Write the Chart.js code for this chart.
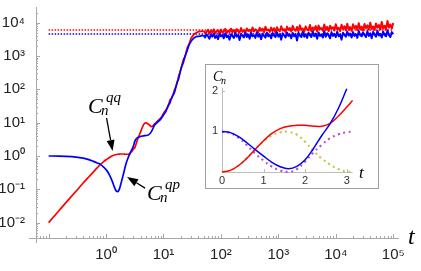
<!DOCTYPE html>
<html>
<head>
<meta charset="utf-8">
<script src="https://cdn.jsdelivr.net/npm/chart.js@4.4.0/dist/chart.umd.min.js"></script>
<style>
  html, body { margin: 0; padding: 0; background: #fff; }
  #wrap { position: relative; width: 421px; height: 271px; }
  #main { display: block; }
  #inset { position: absolute; left: 205px; top: 64px; width: 172px; height: 123px; border: 1px solid #a0a0a0; background: #fff; }
  #insetCanvas { display: block; }
</style>
</head>
<body>
<div id="wrap">
  <canvas id="main" width="421" height="271"></canvas>
  <div id="inset"><canvas id="insetCanvas" width="172" height="123"></canvas></div>
</div>
<script>
// ---- main plot data (log-log) ----
const tEarly = [0.1, 0.15, 0.2, 0.3, 0.4, 0.5, 0.6, 0.7, 0.8, 0.9,
  1.0, 1.1, 1.2, 1.3, 1.4, 1.5, 1.6, 1.7, 1.8, 1.9,
  2.0, 2.2, 2.4, 2.6, 2.8, 3.0, 3.2, 3.5, 3.9, 4.4,
  4.8, 5.5, 6.2, 7.0, 8.0, 9.0, 10, 11, 12, 13,
  14, 15.5, 17, 18.5, 20, 22, 24, 26, 28, 30,
  33, 36, 40, 45, 50];
const redEarly = [0.01, 0.0225, 0.04, 0.088, 0.155, 0.235, 0.33, 0.44, 0.56, 0.67,
  0.77, 0.86, 0.95, 1.02, 1.07, 1.11, 1.13, 1.14, 1.15, 1.15,
  1.15, 1.13, 1.13, 1.19, 1.38, 1.6, 1.85, 3.0, 4.8, 8.0,
  9.8, 9.0, 7.6, 9.2, 11.5, 14, 19, 24, 30, 48,
  55, 95, 140, 260, 380, 750, 1000, 1800, 2300, 3300,
  4200, 4800, 5300, 5500, 5600];
const blueEarly = [1.0, 0.995, 0.98, 0.93, 0.86, 0.78, 0.69, 0.62, 0.56, 0.47,
  0.39, 0.31, 0.23, 0.165, 0.115, 0.09, 0.085, 0.1, 0.14, 0.2,
  0.28, 0.55, 0.85, 1.18, 1.55, 2.0, 2.9, 3.5, 3.8, 4.0,
  4.1, 4.3, 5.5, 8.5, 10.5, 13, 17, 22, 32, 40,
  58, 80, 150, 220, 400, 620, 1050, 1500, 2200, 2700,
  3300, 3700, 3900, 4000, 4100];

// long-time fluctuating plateau
const tNoise = [50.1, 53.1, 56.2, 59.6, 63.1, 66.8, 70.8, 75.0, 79.4, 84.1, 89.1, 94.4,
  100, 106, 112, 119, 126, 133, 141, 150, 158, 168, 178, 188, 200, 211, 224, 237, 251, 266, 282, 299,
  316, 335, 355, 376, 398, 422, 447, 473, 501, 531, 562, 596, 631, 668, 708, 750, 794, 841, 891, 944,
  1000, 1059, 1122, 1189, 1259, 1334, 1413, 1496, 1585, 1679, 1778, 1884, 1995, 2113, 2239, 2371, 2512, 2661, 2818, 2985,
  3162, 3350, 3548, 3758, 3981, 4217, 4467, 4732, 5012, 5309, 5623, 5957, 6310, 6683, 7079, 7499, 7943, 8414, 8913, 9441,
  10000, 10590, 11220, 11890, 12590, 13340, 14130, 14960, 15850, 16790, 17780, 18840, 19950, 21130, 22390, 23710, 25120, 26610, 28180, 29850,
  31620, 33500, 35480, 37580, 39810, 42170, 44670, 47320, 50120, 53090, 56230, 59570, 63100, 66830, 70790, 74990, 79430, 84140, 89130, 94410,
  100000];
const redNoise = [5600, 4900, 5300, 6100, 4700, 5800, 5100, 6300, 4800, 5500,
  5900, 4600, 6200, 5000, 5400, 6500, 4900, 5700, 5200, 6600,
  5100, 6000, 4700, 6400, 5500, 5000, 6900, 5300, 5900, 4800,
  6700, 5600, 6100, 5000, 7200, 5400, 6300, 5800, 5100, 7000,
  5700, 6600, 5200, 7500, 5900, 6200, 5300, 7100, 5600, 6800,
  5000, 7300, 6000, 5500, 7800, 5800, 6400, 5200, 7600, 6100,
  6900, 5400, 8000, 6200, 5700, 7400, 5500, 8300, 6000, 6700,
  5300, 7700, 6300, 5800, 8500, 5600, 7200, 6100, 7900, 5400,
  8200, 6400, 6900, 5700, 8800, 6000, 7500, 5500, 8100, 6600,
  7300, 5800, 9000, 6200, 7000, 5600, 8600, 6500, 7800, 5900,
  9300, 6100, 7400, 5700, 8900, 6700, 8000, 6000, 9600, 6300,
  7600, 5800, 9100, 6800, 8300, 6100, 10000, 6400, 7700, 6000,
  9400, 7000, 8500, 6200, 10500, 6600, 8100, 6300, 11200, 7100,
  8800, 6700, 9800];
const blueNoise = [4200, 3600, 4500, 3900, 3300, 4400, 3800, 4700, 3500, 4100,
  3200, 4600, 3900, 4300, 3400, 4800, 3700, 4100, 3100, 4500,
  4000, 3500, 4900, 3800, 4300, 3000, 4600, 4100, 3600, 5000,
  3700, 4400, 3300, 4800, 3900, 4200, 3500, 5100, 3800, 4500,
  3200, 4700, 4000, 3600, 5000, 3900, 4300, 3400, 4900, 4100,
  3700, 5200, 3800, 4500, 3100, 4800, 4200, 3600, 5100, 4000,
  4400, 3400, 4900, 3900, 4600, 2900, 5000, 4100, 3700, 5300,
  3800, 4500, 3500, 5000, 4200, 3700, 5400, 3900, 4700, 3300,
  5100, 4000, 4400, 3600, 5500, 3800, 4800, 4200, 3400, 5200,
  4000, 4600, 3700, 5300, 3900, 4400, 3100, 5000, 4300, 3800,
  5400, 4100, 4700, 3600, 5200, 4000, 4500, 3500, 5600, 4200,
  3900, 5100, 4300, 3700, 5500, 4000, 4800, 3400, 5300, 4400,
  3800, 5700, 4100, 4600, 3600, 5400, 4200, 3900, 5800, 4300,
  3700, 5200, 4500];

const redLevel = 6000;
const blueLevel = 4600;
const levelSpan = [0.1, 100000];

const xTickValues = [1, 10, 100, 1000, 10000, 100000];
const yTickValues = [0.01, 0.1, 1, 10, 100, 1000, 10000];

// ---- inset data (linear) ----
const tInset = [0, 0.2, 0.4, 0.6, 0.8, 1.0, 1.2, 1.4, 1.6, 1.8, 2.0, 2.2, 2.4, 2.6, 2.8, 3.0, 3.14];
const redInset = [0, 0.04, 0.16, 0.34, 0.56, 0.77, 0.95, 1.07, 1.13, 1.15, 1.15, 1.13, 1.13, 1.2, 1.38, 1.6, 1.76];
const blueInset = [1.0, 0.97, 0.87, 0.72, 0.55, 0.39, 0.24, 0.13, 0.08, 0.14, 0.3, 0.58, 0.9, 1.19, 1.57, 2.05];
const yellowInset = [0, 0.04, 0.16, 0.35, 0.56, 0.76, 0.9, 0.98, 0.99, 0.92, 0.74, 0.52, 0.33, 0.18, 0.07, 0.01, 0];
const purpleInset = [1, 0.96, 0.84, 0.66, 0.45, 0.28, 0.13, 0.04, 0.0, 0.07, 0.26, 0.48, 0.67, 0.83, 0.93, 0.98, 1.0];

const RED = 'rgb(255,0,0)';
const BLUE = 'rgb(0,0,255)';
const SERIF = '"Liberation Serif", "Times New Roman", serif';
Chart.defaults.font.family = '"Liberation Sans", Arial, sans-serif';

const SUP = { '-': '⁻', '0': '⁰', '1': '¹', '2': '²', '3': '³', '4': '⁴', '5': '⁵', '6': '⁶', '7': '⁷', '8': '⁸', '9': '⁹' };
function powLabel(v) {
  const e = Math.round(Math.log10(v));
  return '10' + String(e).split('').map(c => SUP[c]).join('');
}

function pairs(xs, ys) {
  return ys.map((y, i) => ({ x: xs[i], y: y }));
}

// annotation anchors, in data units
const notes = [
  { sup: 'qq', labelT: 0.486, labelC: 19.6, tailT: 1.02, tailC: 13.8, tipT: 1.3, tipC: 1.41 },
  { sup: 'qp', labelT: 5.18, labelC: 0.0477, tailT: 4.78, tailC: 0.109, tipT: 2.32, tipC: 0.234 }
];

function drawCn(ctx, x, y, sup) {
  ctx.fillStyle = '#000';
  ctx.textBaseline = 'alphabetic';
  ctx.textAlign = 'left';
  ctx.font = 'italic 22px ' + SERIF;
  ctx.fillText('C', x, y);
  ctx.font = 'italic 15px ' + SERIF;
  ctx.fillText('n', x + 13, y + 2);
  ctx.fillText(sup, x + 18, y - 11);
}

function drawArrow(ctx, x0, y0, x1, y1) {
  const ang = Math.atan2(y1 - y0, x1 - x0);
  const hl = 11, hw = 4;
  const bx = x1 - hl * Math.cos(ang), by = y1 - hl * Math.sin(ang);
  ctx.strokeStyle = '#000';
  ctx.lineWidth = 1.3;
  ctx.beginPath();
  ctx.moveTo(x0, y0);
  ctx.lineTo(bx, by);
  ctx.stroke();
  ctx.fillStyle = '#000';
  ctx.beginPath();
  ctx.moveTo(x1, y1);
  ctx.lineTo(bx + hw * Math.sin(ang), by - hw * Math.cos(ang));
  ctx.lineTo(bx - hw * Math.sin(ang), by + hw * Math.cos(ang));
  ctx.closePath();
  ctx.fill();
}

// Mathematica-style axes: gray lines, inward ticks, minor ticks
const logAxes = {
  id: 'logAxes',
  beforeDatasetsDraw(chart) {
    const { ctx, chartArea: a, scales: { x, y } } = chart;
    ctx.save();
    ctx.strokeStyle = '#a8a8a8';
    ctx.lineWidth = 1;
    ctx.beginPath();
    ctx.moveTo(a.left - 7, a.bottom + 0.5);
    ctx.lineTo(a.right, a.bottom + 0.5);
    ctx.moveTo(a.left + 0.5, a.top);
    ctx.lineTo(a.left + 0.5, a.bottom + 5);
    for (let e = -3; e <= 5; e++) {
      for (let m = 1; m <= 9; m++) {
        const v = m * Math.pow(10, e);
        const len = m === 1 ? 4 : 2;
        if (v >= x.min && v <= x.max) {
          const px = Math.round(x.getPixelForValue(v)) + 0.5;
          ctx.moveTo(px, a.bottom);
          ctx.lineTo(px, a.bottom - len);
        }
        if (v >= y.min && v <= y.max) {
          const py = Math.round(y.getPixelForValue(v)) + 0.5;
          ctx.moveTo(a.left, py);
          ctx.lineTo(a.left + len, py);
        }
      }
    }
    ctx.stroke();
    ctx.restore();
  },
  afterDatasetsDraw(chart) {
    const { ctx, scales: { x, y } } = chart;
    ctx.save();
    notes.forEach(n => {
      drawArrow(ctx, x.getPixelForValue(n.tailT), y.getPixelForValue(n.tailC),
        x.getPixelForValue(n.tipT), y.getPixelForValue(n.tipC));
      drawCn(ctx, x.getPixelForValue(n.labelT), y.getPixelForValue(n.labelC), n.sup);
    });
    ctx.font = 'italic 24px ' + SERIF;
    ctx.fillStyle = '#000';
    ctx.textAlign = 'left';
    ctx.textBaseline = 'alphabetic';
    ctx.fillText('t', 408, 244);
    ctx.restore();
  }
};

new Chart(document.getElementById('main'), {
  type: 'line',
  data: {
    datasets: [
      { data: pairs(tEarly, blueEarly), borderColor: BLUE, borderWidth: 1.7, pointRadius: 0, cubicInterpolationMode: 'monotone', order: 0 },
      { data: pairs(tNoise, blueNoise), borderColor: BLUE, borderWidth: 2, borderJoinStyle: 'round', pointRadius: 0, tension: 0, order: 0 },
      { data: pairs(tEarly, redEarly), borderColor: RED, borderWidth: 1.7, pointRadius: 0, cubicInterpolationMode: 'monotone', order: 1 },
      { data: pairs(tNoise, redNoise), borderColor: RED, borderWidth: 2, borderJoinStyle: 'round', pointRadius: 0, tension: 0, order: 1 },
      { data: levelSpan.map(t => ({ x: t, y: redLevel })), borderColor: RED, borderWidth: 1.5, borderDash: [1.5, 1.5], pointRadius: 0, order: 2 },
      { data: levelSpan.map(t => ({ x: t, y: blueLevel })), borderColor: BLUE, borderWidth: 1.5, borderDash: [1.5, 1.5], pointRadius: 0, order: 2 }
    ]
  },
  options: {
    responsive: false,
    animation: false,
    events: [],
    layout: { padding: { top: 7, right: 22, left: 0, bottom: 0 } },
    plugins: { legend: { display: false }, tooltip: { enabled: false } },
    scales: {
      x: {
        type: 'logarithmic',
        min: 0.0603,
        max: 126000,
        afterFit: s => { s.height = 33; s.paddingLeft = 0; s.paddingRight = 0; },
        afterBuildTicks: s => { s.ticks = xTickValues.map(v => ({ value: v })); },
        grid: { display: false, drawTicks: false },
        border: { display: false },
        ticks: { autoSkip: false, maxRotation: 0, padding: 8, color: '#222', font: { size: 15 }, callback: v => powLabel(v) }
      },
      y: {
        type: 'logarithmic',
        min: 0.00347,
        max: 29500,
        afterFit: s => { s.width = 36; s.paddingTop = 0; s.paddingBottom = 0; },
        afterBuildTicks: s => { s.ticks = yTickValues.map(v => ({ value: v })); },
        grid: { display: false, drawTicks: false },
        border: { display: false },
        ticks: { autoSkip: false, padding: 11, color: '#222', font: { size: 15 }, callback: v => powLabel(v) }
      }
    }
  },
  plugins: [logAxes]
});

// ---- inset ----
const insetAxes = {
  id: 'insetAxes',
  beforeDatasetsDraw(chart) {
    const { ctx, chartArea: a, scales: { x, y } } = chart;
    ctx.save();
    ctx.strokeStyle = '#bdbdbd';
    ctx.lineWidth = 1;
    ctx.beginPath();
    ctx.moveTo(a.left, a.bottom + 0.5);
    ctx.lineTo(x.getPixelForValue(3.14), a.bottom + 0.5);
    ctx.moveTo(a.left + 0.5, a.bottom);
    ctx.lineTo(a.left + 0.5, a.top);
    [1, 2].forEach(v => {
      const py = Math.round(y.getPixelForValue(v)) + 0.5;
      ctx.moveTo(a.left, py);
      ctx.lineTo(a.left + 3, py);
    });
    [1, 2, 3].forEach(v => {
      const px = Math.round(x.getPixelForValue(v)) + 0.5;
      ctx.moveTo(px, a.bottom);
      ctx.lineTo(px, a.bottom - 3);
    });
    ctx.stroke();
    ctx.restore();
  },
  afterDatasetsDraw(chart) {
    const { ctx } = chart;
    ctx.save();
    ctx.fillStyle = '#000';
    ctx.textAlign = 'left';
    ctx.textBaseline = 'alphabetic';
    ctx.font = 'italic 14px ' + SERIF;
    ctx.fillText('C', 7, 16);
    ctx.font = 'italic 10px ' + SERIF;
    ctx.fillText('n', 15, 19);
    ctx.font = 'italic 17px ' + SERIF;
    ctx.fillText('t', 153, 113);
    ctx.restore();
  }
};

new Chart(document.getElementById('insetCanvas'), {
  type: 'line',
  data: {
    datasets: [
      { data: pairs(tInset, blueInset), borderColor: BLUE, borderWidth: 1.5, pointRadius: 0, tension: 0.4, clip: false, order: 0 },
      { data: pairs(tInset, redInset), borderColor: RED, borderWidth: 1.5, pointRadius: 0, tension: 0.4, clip: false, order: 1 },
      { data: pairs(tInset, purpleInset), borderColor: 'rgb(176,80,200)', borderWidth: 2, borderDash: [2, 3.5], pointRadius: 0, tension: 0.4, clip: false, order: 2 },
      { data: pairs(tInset, yellowInset), borderColor: 'rgb(196,196,60)', borderWidth: 2, borderDash: [2, 3.5], pointRadius: 0, tension: 0.4, clip: false, order: 3 }
    ]
  },
  options: {
    responsive: false,
    animation: false,
    events: [],
    layout: { padding: { top: 23, right: 25, left: 0, bottom: 0 } },
    plugins: { legend: { display: false }, tooltip: { enabled: false } },
    scales: {
      x: {
        type: 'linear',
        min: 0,
        max: 3.15,
        afterFit: s => { s.height = 16; s.paddingLeft = 0; s.paddingRight = 0; },
        afterBuildTicks: s => { s.ticks = [0, 1, 2, 3].map(v => ({ value: v })); },
        grid: { display: false, drawTicks: false },
        border: { display: false },
        ticks: { autoSkip: false, maxRotation: 0, padding: 2, color: '#333', font: { size: 11 } }
      },
      y: {
        type: 'linear',
        min: 0,
        max: 2.07,
        afterFit: s => { s.width = 16; s.paddingTop = 0; s.paddingBottom = 0; },
        afterBuildTicks: s => { s.ticks = [1, 2].map(v => ({ value: v })); },
        grid: { display: false, drawTicks: false },
        border: { display: false },
        ticks: { autoSkip: false, padding: 4, color: '#333', font: { size: 11 } }
      }
    }
  },
  plugins: [insetAxes]
});
</script>
</body>
</html>
